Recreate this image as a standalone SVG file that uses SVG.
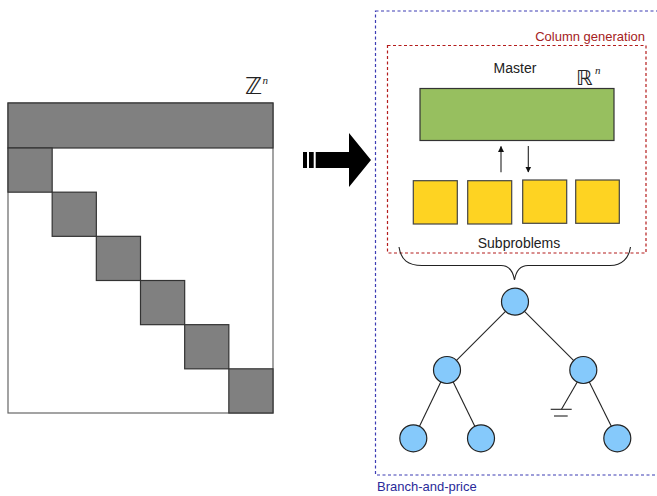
<svg xmlns="http://www.w3.org/2000/svg" width="657" height="496" viewBox="0 0 657 496">
  <defs>
    <style>
      text { font-family: "Liberation Sans", Arial, sans-serif; }
      .lbl { font-size: 14px; fill: #222; }
      .blk { fill: #808080; stroke: #333; stroke-width: 1.2; }
      .sub { fill: #fed322; stroke: #444; stroke-width: 1.2; }
      .bnode { fill: #85c9fb; stroke: #222; stroke-width: 1.2; }
      .edge { stroke: #222; stroke-width: 1.1; fill: none; }
      .math { font-family: "DejaVu Sans", sans-serif; fill: #222; }
      .sup { font-family: "Liberation Serif", serif; font-style: italic; fill: #222; }
    </style>
    <marker id="ah" viewBox="0 0 10 10" refX="9" refY="5" markerWidth="6" markerHeight="7" markerUnits="userSpaceOnUse" orient="auto">
      <path d="M0,0 L10,5 L0,10 z" fill="#111"/>
    </marker>
  </defs>
  <rect width="657" height="496" fill="#fff"/>

  <!-- block-angular matrix -->
  <g id="matrix">
    <rect x="8" y="103" width="265" height="310" fill="#fff" stroke="#666" stroke-width="1.2"/>
    <rect class="blk" x="8" y="103" width="265" height="45"/>
    <rect class="blk" x="8" y="148" width="44.17" height="44.17"/>
    <rect class="blk" x="52.17" y="192.17" width="44.17" height="44.17"/>
    <rect class="blk" x="96.33" y="236.33" width="44.17" height="44.17"/>
    <rect class="blk" x="140.5" y="280.5" width="44.17" height="44.17"/>
    <rect class="blk" x="184.67" y="324.67" width="44.17" height="44.17"/>
    <rect class="blk" x="228.83" y="368.83" width="44.17" height="44.17"/>
    <text class="math" x="245" y="94" font-size="23">ℤ</text>
    <text class="sup" x="262.5" y="84" font-size="11">n</text>
  </g>

  <!-- decomposition arrow -->
  <g id="bigArrow" fill="#000">
    <rect x="303" y="152" width="4" height="16"/>
    <rect x="309" y="152" width="4.7" height="16"/>
    <polygon points="315.7,152 349,152 349,133 371,160 349,187 349,168 315.7,168"/>
  </g>

  <!-- branch-and-price frame -->
  <g id="branchAndPrice">
    <rect x="375.5" y="11" width="290" height="464" fill="none" stroke="#3c3cb4" stroke-width="1.2" stroke-dasharray="3,2.5"/>
    <text x="377" y="491" font-size="13" fill="#2a2a9a">Branch-and-price</text>
  </g>

  <!-- column generation frame -->
  <g id="columnGeneration">
    <rect x="387.5" y="45.5" width="258.5" height="207.5" fill="none" stroke="#b41c1c" stroke-width="1.2" stroke-dasharray="3,2.5"/>
    <text x="645" y="41" font-size="13" fill="#a52222" text-anchor="end">Column generation</text>
  </g>

  <g id="master">
    <text class="lbl" x="515" y="73" text-anchor="middle">Master</text>
    <rect x="420" y="88.5" width="194" height="52" fill="#97bf5f" stroke="#333" stroke-width="1.2"/>
    <text class="math" x="576" y="85" font-size="21">ℝ</text>
    <text class="sup" x="595" y="74" font-size="11">n</text>
  </g>

  <g id="subproblems">
    <rect class="sub" x="413.3" y="180.7" width="44" height="43.3"/>
    <rect class="sub" x="467.7" y="180.7" width="44" height="43.3"/>
    <rect class="sub" x="522.7" y="180" width="44" height="43.3"/>
    <rect class="sub" x="575.7" y="180" width="43.6" height="43.3"/>
    <text class="lbl" x="519" y="248" text-anchor="middle">Subproblems</text>
  </g>

  <!-- search tree nodes -->
  <g id="root"><circle class="bnode" cx="515" cy="301.7" r="13.5"/></g>
  <g id="nodeL"><circle class="bnode" cx="447" cy="370" r="13.5"/></g>
  <g id="nodeR"><circle class="bnode" cx="583.3" cy="370" r="13.5"/></g>
  <g id="nodeLL"><circle class="bnode" cx="413.3" cy="438.3" r="13.5"/></g>
  <g id="nodeLR"><circle class="bnode" cx="481" cy="438.3" r="13.5"/></g>
  <g id="nodeRR"><circle class="bnode" cx="617.3" cy="438.3" r="13.5"/></g>

  <g id="connectors">
    <line class="edge" x1="501" y1="172.3" x2="501" y2="146.5" marker-end="url(#ah)"/>
    <line class="edge" x1="528.3" y1="146" x2="528.3" y2="172" marker-end="url(#ah)"/>
    <path class="edge" d="M399,247 C401,260 408,265.5 422,265.5 L501,265.5 C509,265.5 513,271 514.5,280 C516,271 520,265.5 528,265.5 L610,265.5 C622,265.5 629,258 630.5,247"/>
    <line class="edge" x1="505.5" y1="311.3" x2="456.5" y2="360.4"/>
    <line class="edge" x1="524.5" y1="311.3" x2="573.5" y2="360.4"/>
    <line class="edge" x1="440.8" y1="382" x2="419.5" y2="426.3"/>
    <line class="edge" x1="453.2" y1="382" x2="474.8" y2="426.3"/>
    <line class="edge" x1="577.3" y1="382" x2="561.5" y2="409.3"/>
    <line class="edge" x1="589.3" y1="382" x2="611.3" y2="426.3"/>
    <line class="edge" x1="550.7" y1="409.3" x2="571.7" y2="409.3"/>
    <line class="edge" x1="554" y1="416" x2="567.7" y2="416"/>
  </g>
</svg>
